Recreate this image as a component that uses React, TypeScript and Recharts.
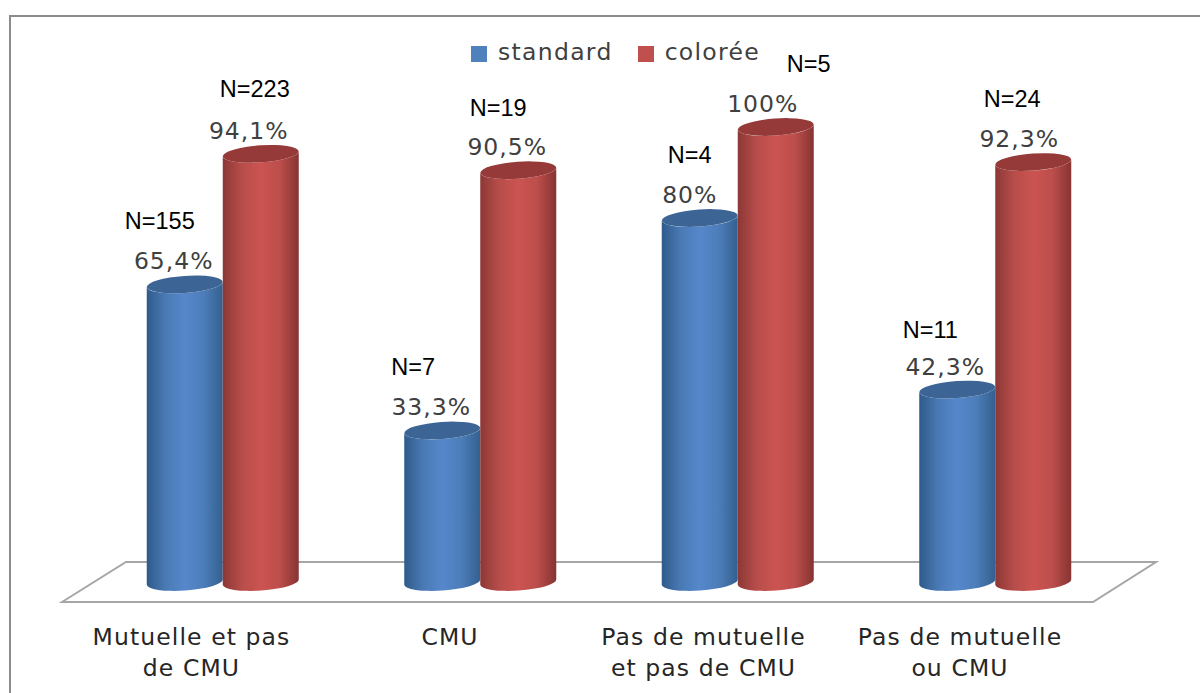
import React from "react";
import { BarChart, Bar, XAxis, YAxis, Legend, LabelList, Customized } from "recharts";

const categories = [
  ["Mutuelle et pas", "de CMU"],
  ["CMU"],
  ["Pas de mutuelle", "et pas de CMU"],
  ["Pas de mutuelle", "ou CMU"],
];
const standardValues = [65.4, 33.3, 80, 42.3];
const coloreeValues = [94.1, 90.5, 100, 92.3];
const standardPct = ["65,4%", "33,3%", "80%", "42,3%"];
const coloreePct = ["94,1%", "90,5%", "100%", "92,3%"];
const standardN = ["N=155", "N=7", "N=4", "N=11"];
const coloreeN = ["N=223", "N=19", "N=5", "N=24"];

const data = categories.map((c, i) => ({
  name: c.join(" "),
  standard: standardValues[i],
  coloree: coloreeValues[i],
}));

// label nudges relative to the bar top and centre
const standardPctDx = [-11, -11, -10, -12];
const coloreePctDx = [-12, -11, -13, -14];
const standardNDx = [-25, -29, -10, -27];
const coloreeNDx = [-6, -20, 33, -21];
const standardNDy = [-55, -55, -55, -52];
const coloreeNDy = [-57, -54, -55, -55];
const tickDx = [-31, -30, -34, -35];

const W = 1200;
const H = 693;
const NUM = "'DejaVu Sans', sans-serif";
const ARIAL = "'Liberation Sans', Arial, sans-serif";

const Cylinder = (props: any) => {
  const { x, y, width, height, grad, cap } = props;
  const rx = width / 2;
  const ry = 8.5;
  const tilt = -4;
  const dy = Math.sin((4 * Math.PI) / 180) * rx;
  const b = y + height;
  const d = `M${x},${y + dy} A${rx},${ry} ${tilt} 0 0 ${x + width},${y - dy} L${x + width},${b - dy} A${rx},${ry} ${tilt} 0 1 ${x},${b + dy} Z`;
  return (
    <g>
      <path d={d} fill={`url(#${grad})`} />
      <ellipse cx={x + rx} cy={y} rx={rx} ry={ry} fill={cap} transform={`rotate(${tilt} ${x + rx} ${y})`} />
    </g>
  );
};

const makeLabel = (pct: string[], ns: string[], pctDx: number[], nDx: number[], nDy: number[]) => (p: any) => {
  const { x, y, width, index } = p;
  const cx = x + width / 2;
  return (
    <g>
      <text x={cx + pctDx[index]} y={y - 15} textAnchor="middle" fontFamily={NUM} fontSize={23.5} letterSpacing={1} fill="#404040">
        {pct[index]}
      </text>
      <text x={cx + nDx[index]} y={y + nDy[index]} textAnchor="middle" fontFamily={ARIAL} fontSize={23.5} fill="#000">
        {ns[index]}
      </text>
    </g>
  );
};

const CategoryTick = (p: any) => {
  const { x, y, index } = p;
  return (
    <g>
      {categories[index].map((line, i) => (
        <text key={i} x={x + tickDx[index]} y={y + 55 + i * 31} textAnchor="middle" fontFamily={NUM} fontSize={23.5} letterSpacing={1.1} fill="#262626">
          {line}
        </text>
      ))}
    </g>
  );
};

const Decor = () => (
  <g>
    <path d="M10,693 L10,16 L1200,16" fill="none" stroke="#8c8c8c" strokeWidth={2} />
    <path d="M62,602 L126,562 L1156,562 L1093,602 Z" fill="#fff" stroke="#a6a6a6" strokeWidth={2} />
  </g>
);

export default function App() {
  return (
    <div style={{ position: "absolute", left: 0, top: 0, width: W, height: H, background: "#fff" }}>
      <BarChart
        width={W}
        height={H}
        data={data}
        margin={{ top: 127, right: 76.25, bottom: 51, left: 93.75 }}
        barCategoryGap={53}
        barGap={0}
      >
        <defs>
          <linearGradient id="gBlue" x1="0" x2="1" y1="0" y2="0">
            <stop offset="0" stopColor="#2f5a8a" />
            <stop offset="0.25" stopColor="#4a7ab5" />
            <stop offset="0.5" stopColor="#5587cb" />
            <stop offset="0.75" stopColor="#4d7db9" />
            <stop offset="1" stopColor="#33608f" />
          </linearGradient>
          <linearGradient id="gRed" x1="0" x2="1" y1="0" y2="0">
            <stop offset="0" stopColor="#8c3836" />
            <stop offset="0.25" stopColor="#b74d4a" />
            <stop offset="0.5" stopColor="#cb5451" />
            <stop offset="0.75" stopColor="#bc4e4b" />
            <stop offset="1" stopColor="#863432" />
          </linearGradient>
        </defs>
        <Customized component={Decor} />
        <XAxis dataKey="name" height={60} axisLine={false} tickLine={false} interval={0} tick={<CategoryTick />} />
        <YAxis hide domain={[0, 100]} />
        <Legend
          layout="horizontal"
          verticalAlign="middle"
          align="center"
          iconType="square"
          iconSize={16}
          itemSorter={null}
          wrapperStyle={{ position: "absolute", left: 458, top: 38, width: 340, textAlign: "left", fontFamily: NUM, fontSize: 23.5, letterSpacing: 1.3 }}
          formatter={(v: any) => <span style={{ color: "#404040", marginLeft: 7, marginRight: 15 }}>{v}</span>}
        />
        <Bar
          dataKey="standard"
          name="standard"
          fill="#4f81bd"
          isAnimationActive={false}
          shape={(p: any) => <Cylinder {...p} grad="gBlue" cap="#3c6595" />}
        >
          <LabelList content={makeLabel(standardPct, standardN, standardPctDx, standardNDx, standardNDy)} />
        </Bar>
        <Bar
          dataKey="coloree"
          name="colorée"
          fill="#c0504d"
          isAnimationActive={false}
          shape={(p: any) => <Cylinder {...p} grad="gRed" cap="#953a38" />}
        >
          <LabelList content={makeLabel(coloreePct, coloreeN, coloreePctDx, coloreeNDx, coloreeNDy)} />
        </Bar>
      </BarChart>
    </div>
  );
}
